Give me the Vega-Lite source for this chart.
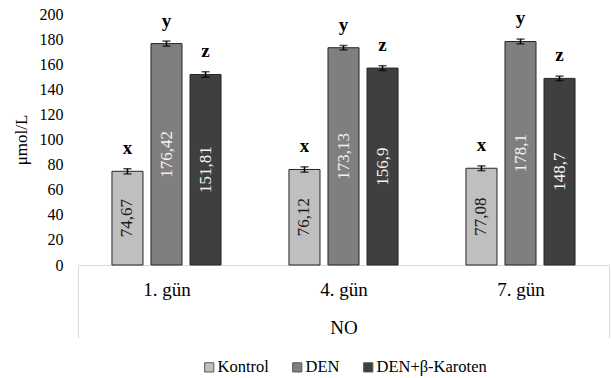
{
  "$schema": "https://vega.github.io/schema/vega-lite/v6.json",
  "width": 531,
  "height": 251,
  "autosize": {"type": "none"},
  "padding": {"left": 78, "top": 14, "right": 2, "bottom": 113},
  "background": "white",
  "config": {
    "font": "Liberation Serif",
    "view": {"stroke": null},
    "axisY": {
      "labelFont": "Liberation Serif",
      "labelFontSize": 16,
      "labelColor": "#000000",
      "labelPadding": 15,
      "labelOverlap": false,
      "labelBound": false,
      "ticks": false,
      "domain": false,
      "grid": false,
      "titleFont": "Liberation Serif",
      "titleFontSize": 17,
      "titleFontWeight": "normal",
      "titleColor": "#000000",
      "titlePadding": 9
    },
    "axisX": {"labelFont": "Liberation Serif", "titleFont": "Liberation Serif"},
    "legend": {
      "labelFont": "Liberation Serif",
      "labelFontSize": 16.5,
      "labelColor": "#000000"
    }
  },
  "data": {
    "values": [
      {"gun": "1. gün", "grup": "Kontrol", "val": 74.67, "lo": 72.6, "hi": 76.7, "label": "74,67", "harf": "x"},
      {"gun": "1. gün", "grup": "DEN", "val": 176.42, "lo": 174.4, "hi": 178.4, "label": "176,42", "harf": "y"},
      {"gun": "1. gün", "grup": "DEN+β-Karoten", "val": 151.81, "lo": 149.6, "hi": 154.0, "label": "151,81", "harf": "z"},
      {"gun": "4. gün", "grup": "Kontrol", "val": 76.12, "lo": 74.0, "hi": 78.2, "label": "76,12", "harf": "x"},
      {"gun": "4. gün", "grup": "DEN", "val": 173.13, "lo": 171.4, "hi": 174.9, "label": "173,13", "harf": "y"},
      {"gun": "4. gün", "grup": "DEN+β-Karoten", "val": 156.9, "lo": 155.0, "hi": 158.8, "label": "156,9", "harf": "z"},
      {"gun": "7. gün", "grup": "Kontrol", "val": 77.08, "lo": 75.2, "hi": 79.0, "label": "77,08", "harf": "x"},
      {"gun": "7. gün", "grup": "DEN", "val": 178.1, "lo": 176.2, "hi": 180.0, "label": "178,1", "harf": "y"},
      {"gun": "7. gün", "grup": "DEN+β-Karoten", "val": 148.7, "lo": 146.9, "hi": 150.5, "label": "148,7", "harf": "z"}
    ]
  },
  "encoding": {
    "x": {
      "field": "gun",
      "type": "nominal",
      "sort": ["1. gün", "4. gün", "7. gün"],
      "scale": {"paddingInner": 0, "paddingOuter": 0},
      "axis": {
        "title": "NO",
        "titleFontSize": 19,
        "titleFontWeight": "normal",
        "titleColor": "#000000",
        "titlePadding": -20,
        "labelAngle": 0,
        "labelFontSize": 19,
        "labelColor": "#000000",
        "labelPadding": -58,
        "domainColor": "#d9d9d9",
        "domainWidth": 1,
        "tickBand": "extent",
        "tickSize": 73,
        "tickColor": "#d9d9d9",
        "tickWidth": 1,
        "tickOpacity": {"condition": {"test": "datum.value === '1. gün' || datum.value === '4. gün'", "value": 0}, "value": 1}
      }
    },
    "xOffset": {
      "field": "grup",
      "type": "nominal",
      "sort": ["Kontrol", "DEN", "DEN+β-Karoten"],
      "scale": {"paddingInner": 0.205, "paddingOuter": 0.87}
    },
    "y": {
      "field": "val",
      "type": "quantitative",
      "scale": {"domain": [0, 200], "nice": false},
      "axis": {
        "title": "μmol/L",
        "values": [0, 20, 40, 60, 80, 100, 120, 140, 160, 180, 200],
        "labelOverlap": false
      }
    }
  },
  "layer": [
    {
      "mark": {"type": "bar", "stroke": "#262626", "strokeWidth": 1},
      "encoding": {
        "color": {
          "field": "grup",
          "type": "nominal",
          "sort": ["Kontrol", "DEN", "DEN+β-Karoten"],
          "scale": {"domain": ["Kontrol", "DEN", "DEN+β-Karoten"], "range": ["#bfbfbf", "#7f7f7f", "#3f3f3f"]},
          "legend": {
            "title": null,
            "orient": "none",
            "legendX": 123,
            "legendY": 345,
            "direction": "horizontal",
            "symbolType": "square",
            "symbolSize": 85,
            "symbolStrokeColor": "#595959",
            "symbolStrokeWidth": 1,
            "symbolOpacity": 1,
            "labelOffset": 0,
            "columnPadding": 20
          }
        }
      }
    },
    {
      "mark": {"type": "rule", "color": "#000000", "strokeWidth": 1.5},
      "encoding": {
        "y": {"field": "lo", "type": "quantitative"},
        "y2": {"field": "hi"}
      }
    },
    {
      "mark": {"type": "tick", "color": "#000000", "size": 8, "thickness": 1.5, "orient": "horizontal"},
      "encoding": {"y": {"field": "lo", "type": "quantitative"}}
    },
    {
      "mark": {"type": "tick", "color": "#000000", "size": 8, "thickness": 1.5, "orient": "horizontal"},
      "encoding": {"y": {"field": "hi", "type": "quantitative"}}
    },
    {
      "mark": {"type": "text", "font": "Liberation Serif", "fontSize": 19, "fontWeight": "bold", "baseline": "alphabetic", "dy": -17, "color": "#000000"},
      "encoding": {
        "text": {"field": "harf"}
      }
    },
    {
      "transform": [{"calculate": "datum.val / 2", "as": "orta"}],
      "mark": {"type": "text", "font": "Liberation Serif", "fontSize": 17, "angle": 270, "align": "center", "baseline": "middle"},
      "encoding": {
        "y": {"field": "orta", "type": "quantitative"},
        "text": {"field": "label"},
        "color": {
          "condition": {"test": "datum.grup === 'Kontrol'", "value": "#1a1a1a"},
          "value": "#f2f2f2"
        }
      }
    }
  ]
}
